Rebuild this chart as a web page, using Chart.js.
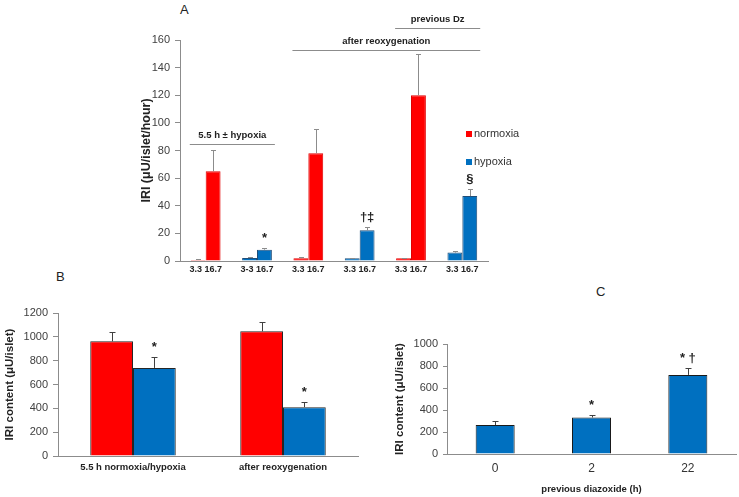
<!DOCTYPE html>
<html lang="en">
<head>
<meta charset="UTF-8">
<title>IRI release and content</title>
<script src="https://cdn.jsdelivr.net/npm/chart.js"></script>
<style>
  body {
    margin: 0;
    background: #fff;
    width: 739px;
    height: 497px;
    position: relative;
    overflow: hidden;
    font-family: 'Liberation Sans', Arial, sans-serif;
  }
  canvas, .tag { position: absolute; }
  .tag { font-size: 13px; line-height: 13px; color: #222; }
</style>
</head>
<body>
<div class="tag" style="left:180px;top:3px">A</div>
<div class="tag" style="left:56px;top:270px">B</div>
<div class="tag" style="left:596px;top:285px">C</div>
<canvas id="chartA" width="480" height="285" style="left:130px;top:0"></canvas>
<canvas id="chartB" width="375" height="207" style="left:0;top:290px"></canvas>
<canvas id="chartC" width="354" height="177" style="left:385px;top:320px"></canvas>

<script>
// ---- Panel A : IRI release, glucose 3.3 / 16.7 mM ----
const groupLabels = ['3.3 16.7', '3-3 16.7', '3.3 16.7', '3.3 16.7', '3.3 16.7', '3.3 16.7'];
const groupCondition = ['normoxia', 'hypoxia', 'normoxia', 'hypoxia', 'normoxia', 'hypoxia'];
const glucose33 = [0.8, 2.2, 2, 2, 2, 6.1];
const glucose33Err = [0.3, 0.4, 0.6, 0.4, 0.5, 0.9];
const glucose167 = [65, 8.2, 78, 22.2, 120, 47];
const glucose167Err = [15.4, 1.5, 17.8, 2.6, 29.8, 5.3];
const releaseMarks = ['', '*', '', '†‡', '', '§'];
const releaseTicks = [0, 20, 40, 60, 80, 100, 120, 140, 160];
const legendNames = ['normoxia', 'hypoxia'];
// bracket labels above the groups (from group, to group, height in axis units)
const bracketLabels = ['5.5 h ± hypoxia', 'after reoxygenation', 'previous Dz'];
const bracketFrom = [0, 2, 4];
const bracketTo = [1, 5, 5];
const bracketLevel = [85, 153, 169];

// ---- Panel B : IRI content ----
const contentLabels = ['5.5 h normoxia/hypoxia', 'after reoxygenation'];
const contentNormoxia = [962, 1046];
const contentNormoxiaErr = [78, 78];
const contentHypoxia = [739, 410];
const contentHypoxiaErr = [92, 44];
const contentMarks = ['*', '*'];
const contentTicks = [0, 200, 400, 600, 800, 1000, 1200];

// ---- Panel C : IRI content after diazoxide ----
const dzLabels = ['0', '2', '22'];
const dzContent = [263, 332, 719];
const dzContentErr = [36, 22, 61];
const dzMarks = ['', '*', '* †'];
const dzTicks = [0, 200, 400, 600, 800, 1000];

const RED = '#ff0000';
const BLUE = '#0070c0';
const AXIS = '#8c8c8c';
const TEXT = '#222';
const fill = { normoxia: RED, hypoxia: BLUE };
const edge = { normoxia: '#e00000', hypoxia: '#1f4e79' };

Chart.defaults.font.family = "'Liberation Sans', Arial, sans-serif";
Chart.defaults.color = '#404040';
Chart.defaults.animation = false;

// error bars + significance marks, read from the plugin options
const errorBars = {
  id: 'errorBars',
  afterDatasetsDraw(chart, args, opts) {
    const ctx = chart.ctx, y = chart.scales.y;
    ctx.save();
    ctx.lineWidth = 1;
    opts.errors.forEach((errs, di) => {
      const meta = chart.getDatasetMeta(di);
      const values = chart.data.datasets[di].data;
      meta.data.forEach((bar, i) => {
        if (errs[i] == null) return;
        const x = Math.round(bar.x) + 0.5;
        const top = Math.round(y.getPixelForValue(values[i] + errs[i])) + 0.5;
        const base = y.getPixelForValue(values[i]);
        ctx.strokeStyle = opts.color;
        ctx.beginPath();
        ctx.moveTo(x, base);
        ctx.lineTo(x, top);
        ctx.moveTo(x - opts.cap / 2, top);
        ctx.lineTo(x + opts.cap / 2, top);
        ctx.stroke();
        const mark = opts.marks[di] && opts.marks[di][i];
        if (mark) {
          ctx.fillStyle = TEXT;
          ctx.font = 'bold 13px ' + Chart.defaults.font.family;
          ctx.textAlign = 'center';
          ctx.textBaseline = 'middle';
          ctx.fillText(mark, bar.x, top - 10);
        }
      });
    });
    ctx.restore();
  }
};

// brackets and legend of panel A
const panelAExtras = {
  id: 'panelAExtras',
  afterDraw(chart) {
    const ctx = chart.ctx, y = chart.scales.y, area = chart.chartArea;
    const low = chart.getDatasetMeta(0).data, high = chart.getDatasetMeta(1).data;
    ctx.save();
    ctx.strokeStyle = AXIS;
    ctx.lineWidth = 1;
    ctx.fillStyle = TEXT;
    ctx.font = 'bold 9.5px ' + Chart.defaults.font.family;
    ctx.textAlign = 'center';
    ctx.textBaseline = 'middle';
    bracketLabels.forEach((label, k) => {
      const a = low[bracketFrom[k]], b = high[bracketTo[k]];
      const x0 = a.x - a.width / 2 - 1;
      const x1 = b.x + b.width / 2 + 3;
      const py = Math.round(y.getPixelForValue(bracketLevel[k])) + 0.5;
      ctx.beginPath();
      ctx.moveTo(x0, py);
      ctx.lineTo(x1, py);
      ctx.stroke();
      ctx.fillText(label, (x0 + x1) / 2, py - 9);
    });
    // legend
    ctx.font = '11px ' + Chart.defaults.font.family;
    ctx.textAlign = 'left';
    const lx = area.right - 22;
    legendNames.forEach((name, k) => {
      const ly = area.top + 94 + k * 28;
      ctx.fillStyle = fill[name];
      ctx.fillRect(lx, ly - 3, 6, 6);
      ctx.fillStyle = '#333';
      ctx.fillText(name, lx + 8, ly);
    });
    ctx.restore();
  }
};

function yAxis(ticks, title, titleSize, titlePad, width, tickLen) {
  return {
    min: ticks[0],
    max: ticks[ticks.length - 1],
    afterBuildTicks: s => { s.ticks = ticks.map(v => ({ value: v })); },
    afterFit: s => { s.width = width; },
    grid: { display: true, drawOnChartArea: false, tickLength: tickLen, color: AXIS },
    border: { display: true, color: AXIS },
    ticks: { font: { size: 11 }, padding: 5, color: '#404040', callback: v => String(v) },
    title: {
      display: true, text: title, color: TEXT,
      font: { size: titleSize, weight: 'bold' },
      padding: { top: titlePad, bottom: 0 }
    }
  };
}

function xAxis(height, font, color, pad) {
  return {
    afterFit: s => { s.height = height; },
    grid: { display: false, drawTicks: false },
    border: { display: true, color: AXIS },
    ticks: { font: font, color: color, padding: pad, maxRotation: 0 }
  };
}

// Panel A
new Chart(document.getElementById('chartA'), {
  type: 'bar',
  data: {
    labels: groupLabels,
    datasets: [
      {
        label: '3.3 mM',
        data: glucose33,
        backgroundColor: groupCondition.map(c => fill[c]),
        borderColor: groupCondition.map(c => edge[c]),
        borderWidth: 1
      },
      {
        label: '16.7 mM',
        data: glucose167,
        backgroundColor: groupCondition.map(c => fill[c]),
        borderColor: groupCondition.map(c => edge[c]),
        borderWidth: 1
      }
    ]
  },
  options: {
    responsive: false,
    layout: { padding: { top: 40, right: 122, bottom: 0, left: 0 } },
    datasets: { bar: { categoryPercentage: 0.58, barPercentage: 1 } },
    scales: {
      x: xAxis(24, { size: 9, weight: 'bold' }, TEXT, 3),
      y: yAxis(releaseTicks, 'IRI (μU/islet/hour)', 12.5, 9, 50, 5)
    },
    plugins: {
      legend: { display: false },
      tooltip: { enabled: false },
      errorBars: {
        errors: [glucose33Err, glucose167Err],
        marks: [[], releaseMarks],
        color: '#8c8c8c',
        cap: 5
      }
    }
  },
  plugins: [errorBars, panelAExtras]
});

// Panel B
new Chart(document.getElementById('chartB'), {
  type: 'bar',
  data: {
    labels: contentLabels,
    datasets: [
      { label: 'normoxia', data: contentNormoxia, backgroundColor: RED, borderColor: '#262626', borderWidth: 1 },
      { label: 'hypoxia', data: contentHypoxia, backgroundColor: BLUE, borderColor: '#262626', borderWidth: 1 }
    ]
  },
  options: {
    responsive: false,
    layout: { padding: { top: 23, right: 17, bottom: 0, left: 0 } },
    datasets: { bar: { categoryPercentage: 0.57, barPercentage: 1 } },
    scales: {
      x: xAxis(41, { size: 9.5, weight: 'bold' }, TEXT, 6),
      y: yAxis(contentTicks, 'IRI content (μU/islet)', 11.5, 3, 58, 5)
    },
    plugins: {
      legend: { display: false },
      tooltip: { enabled: false },
      errorBars: {
        errors: [contentNormoxiaErr, contentHypoxiaErr],
        marks: [[], contentMarks],
        color: '#404040',
        cap: 6
      }
    }
  },
  plugins: [errorBars]
});

// Panel C
const xC = xAxis(43, { size: 12 }, '#333', 7);
xC.title = {
  display: true, text: 'previous diazoxide (h)', color: TEXT,
  font: { size: 9.5, weight: 'bold' },
  padding: { top: 0, bottom: 2 }
};
new Chart(document.getElementById('chartC'), {
  type: 'bar',
  data: {
    labels: dzLabels,
    datasets: [
      { label: 'hypoxia', data: dzContent, backgroundColor: BLUE, borderColor: '#1a1a1a', borderWidth: 1 }
    ]
  },
  options: {
    responsive: false,
    layout: { padding: { top: 24, right: 3, bottom: 0, left: 0 } },
    datasets: { bar: { categoryPercentage: 1, barPercentage: 0.405 } },
    scales: {
      x: xC,
      y: yAxis(dzTicks, 'IRI content (μU/islet)', 11.5, 8, 62, 4)
    },
    plugins: {
      legend: { display: false },
      tooltip: { enabled: false },
      errorBars: {
        errors: [dzContentErr],
        marks: [dzMarks],
        color: '#404040',
        cap: 6
      }
    }
  },
  plugins: [errorBars]
});
</script>
</body>
</html>
